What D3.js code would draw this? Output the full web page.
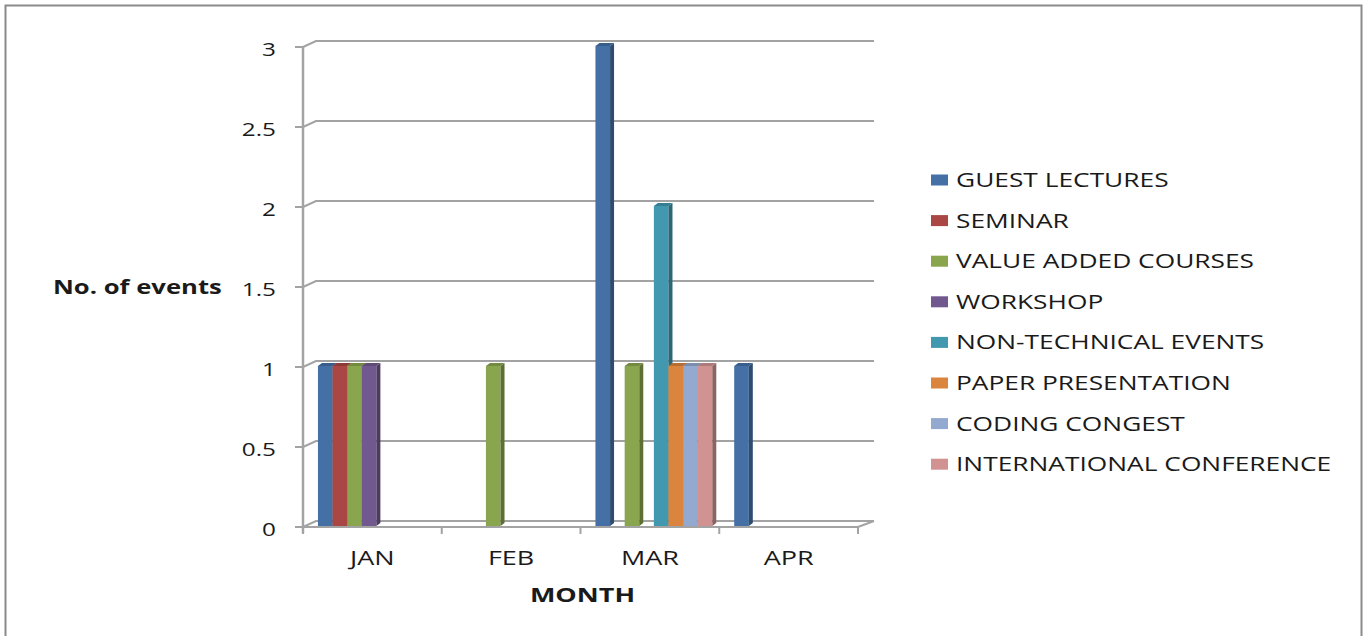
<!DOCTYPE html>
<html>
<head>
<meta charset="utf-8">
<script src="https://cdn.jsdelivr.net/npm/d3@7"></script>
<style>
  body { margin: 0; background: #fff; }
  text { font-family: "Open Sans", sans-serif; fill: #1a1a1a; }
</style>
</head>
<body>
<div class="chart"></div>
<script>
var months = ["JAN", "FEB", "MAR", "APR"];
var seriesNames = ["GUEST LECTURES", "SEMINAR", "VALUE ADDED COURSES", "WORKSHOP",
    "NON-TECHNICAL EVENTS", "PAPER PRESENTATION", "CODING CONGEST", "INTERNATIONAL CONFERENCE"];
var guestLectures = [1, 0, 3, 1];
var seminar = [1, 0, 0, 0];
var valueAdded = [1, 1, 1, 0];
var workshop = [1, 0, 0, 0];
var nonTechnical = [0, 0, 2, 0];
var paperPresentation = [0, 0, 1, 0];
var codingCongest = [0, 0, 1, 0];
var intlConference = [0, 0, 1, 0];
var yTicks = [0, 0.5, 1, 1.5, 2, 2.5, 3];

var seriesValues = [guestLectures, seminar, valueAdded, workshop,
    nonTechnical, paperPresentation, codingCongest, intlConference];
var colors = ["#4470a6", "#aa4643", "#89a54e", "#71588f", "#4198af", "#db843d", "#93a9cf", "#d19392"];

var svgWidth = 1367;
var svgHeight = 636;
var sx = 1.35; // text is stretched sideways in the original

var svg = d3.select(".chart")
    .append("svg")
    .attr("width", svgWidth)
    .attr("height", svgHeight);

// outer frame
svg.append("rect")
    .attr("x", 5.5)
    .attr("y", 5.5)
    .attr("width", 1356)
    .attr("height", 660)
    .attr("fill", "none")
    .attr("stroke", "#8a8a8a")
    .attr("stroke-width", 2);

var xScale = d3.scaleBand()
    .domain(months)
    .range([303, 858]);

var yScale = d3.scaleLinear()
    .domain([0, 3])
    .range([527, 47]);

var inner = d3.scaleBand()
    .domain(seriesNames)
    .range([0, xScale.bandwidth()])
    .paddingOuter(0.75);

var depthX = 13, depthY = -6;
var gridColor = "#a3a3a3";

function stretchedText(g, x, y, str, anchor) {
    return g.append("text")
        .attr("transform", "translate(" + x + "," + y + ") scale(" + sx + ",1)")
        .attr("text-anchor", anchor)
        .text(str);
}

// back wall gridlines
var grid = svg.append("g")
    .attr("stroke", gridColor)
    .attr("stroke-width", 2)
    .attr("fill", "none");

yTicks.forEach(function(t) {
    var yy = yScale(t);
    grid.append("path")
        .attr("d", "M303," + yy + "L" + (303 + depthX) + "," + (yy + depthY) + "L874," + (yy + depthY));
});

// floor front edge + right diagonal
grid.append("path")
    .attr("d", "M303," + yScale(0) + "L858," + yScale(0) + "L874," + (yScale(0) + depthY));

// y axis line and ticks
grid.append("line")
    .attr("x1", 303).attr("x2", 303)
    .attr("y1", yScale(3)).attr("y2", yScale(0) + 6)
    .attr("stroke-width", 2.5);

yTicks.forEach(function(t) {
    grid.append("line")
        .attr("x1", 295).attr("x2", 303)
        .attr("y1", yScale(t)).attr("y2", yScale(t));
});

// category tick marks
months.concat(["end"]).forEach(function(m, i) {
    var xx = i < months.length ? xScale(m) : xScale.range()[1];
    grid.append("line")
        .attr("x1", xx).attr("x2", xx)
        .attr("y1", yScale(0)).attr("y2", yScale(0) + 7);
});

// bars
var barG = svg.append("g");
var sideX = 4, sideY = -3;

months.forEach(function(m, mi) {
    seriesNames.forEach(function(s, si) {
        var v = seriesValues[si][mi];
        if (!v) return;
        var x0 = xScale(m) + inner(s) + 4;
        var x1 = x0 + inner.bandwidth();
        var yt = yScale(v) - 1;
        var yb = yScale(0) - 1;
        var c = d3.color(colors[si]);

        barG.append("rect")
            .attr("x", x0)
            .attr("y", yt)
            .attr("width", inner.bandwidth())
            .attr("height", yb - yt)
            .attr("fill", c);

        barG.append("path")
            .attr("d", "M" + x1 + "," + yt + "L" + (x1 + sideX) + "," + (yt + sideY) +
                "L" + (x1 + sideX) + "," + (yb + sideY) + "L" + x1 + "," + yb + "Z")
            .attr("fill", c.darker(1.1));

        barG.append("path")
            .attr("d", "M" + x0 + "," + yt + "L" + (x0 + sideX) + "," + (yt + sideY) +
                "L" + (x1 + sideX) + "," + (yt + sideY) + "L" + x1 + "," + yt + "Z")
            .attr("fill", c.darker(0.5));
    });
});

// y tick labels
var yLab = svg.append("g").style("font-size", "18px");
yTicks.forEach(function(t) {
    stretchedText(yLab, 276, yScale(t) + 8.5, String(t), "end");
});

// category labels
var xLab = svg.append("g").style("font-size", "20px");
months.forEach(function(m) {
    stretchedText(xLab, xScale(m) + xScale.bandwidth() / 2, 565, m, "middle");
});

// axis titles
var titles = svg.append("g").style("font-weight", "bold");
stretchedText(titles, 53, 294, "No. of events", "start").style("font-size", "19px");
stretchedText(titles, 582.5, 601.5, "MONTH", "middle").style("font-size", "20px");

// legend
var legend = svg.append("g").style("font-size", "19.5px");
seriesNames.forEach(function(s, i) {
    var cy = 180 + i * 40.6;
    legend.append("rect")
        .attr("x", 931)
        .attr("y", cy - 5.5)
        .attr("width", 17)
        .attr("height", 11)
        .attr("fill", colors[i]);
    stretchedText(legend, 956, cy + 7, s, "start");
});
</script>
</body>
</html>
